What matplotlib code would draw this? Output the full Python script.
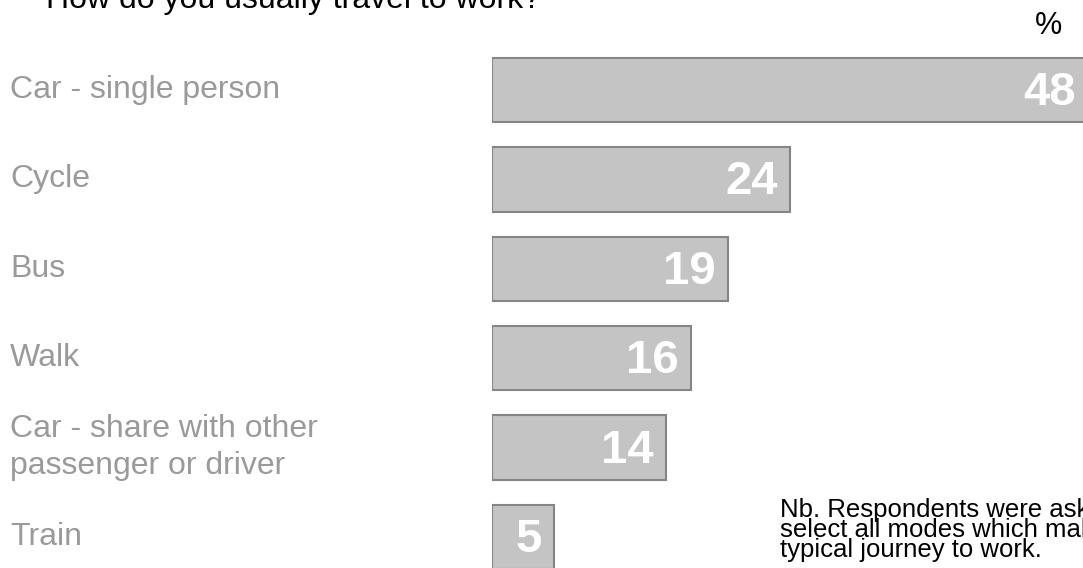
import matplotlib
matplotlib.use("Agg")
import matplotlib.pyplot as plt

plt.rcParams['font.family'] = ['Liberation Sans', 'DejaVu Sans']

modes = ["Car - single person", "Cycle", "Bus", "Walk",
         "Car - share with other\npassenger or driver", "Train"]
percent = [48, 24, 19, 16, 14, 5]

W, H = 1083, 568
fig = plt.figure(figsize=(W / 100, H / 100), dpi=100)
ax = fig.add_axes([492 / W, 0, 1 - 492 / W, 1])

ypos = list(range(len(modes)))
ax.barh(ypos, percent, height=0.72, color="#c4c4c4", edgecolor="#858585", linewidth=1.5)
ax.set_xlim(0, 591 / 12.42)
ax.set_ylim((568 - 90) / 89.4, -90 / 89.4)
ax.axis("off")

for y, v in zip(ypos, percent):
    ax.annotate(str(v), (v, y), xytext=(-12, -3), textcoords="offset pixels",
                ha="right", va="center", color="white", fontsize=34, fontweight="bold",
                annotation_clip=False)

# category labels on the left, in figure pixel coords
for y, m in zip(ypos, modes):
    fy = 1 - (90 + y * 89.4) / H
    fig.text(10 / W, fy, m, ha="left", va="center", color="#9a9a9a", fontsize=23,
             linespacing=1.33)

fig.text(46 / W, 1 - 8 / H, "How do you usually travel to work?", ha="left", va="baseline",
         color="black", fontsize=23)
fig.text(1035 / W, 1 - 26 / H, "%", ha="left", va="center", color="black", fontsize=22)
fig.text(780 / W, 1 - 530 / H,
         "Nb. Respondents were asked to\nselect all modes which make up their\ntypical journey to work.",
         ha="left", va="center", color="black", fontsize=18.5, linespacing=0.79)

fig.savefig("out.png", dpi=100)
